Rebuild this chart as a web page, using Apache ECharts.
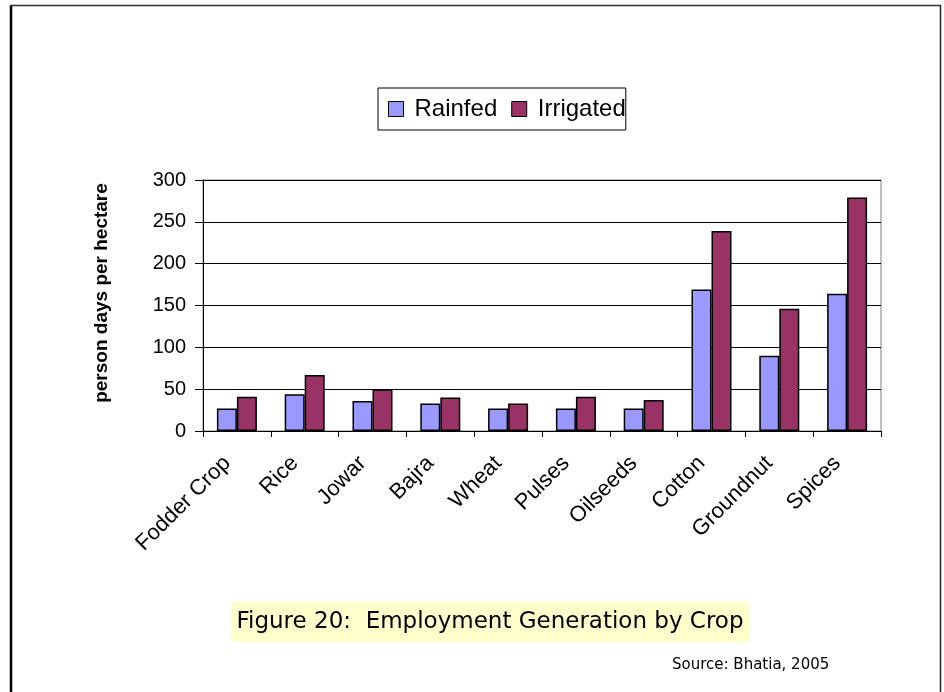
<!DOCTYPE html>
<html>
<head>
<meta charset="utf-8">
<script src="https://cdn.jsdelivr.net/npm/echarts@6/dist/echarts.min.js"></script>
<style>
html,body{margin:0;padding:0;background:#fff;}
#chart{width:944px;height:692px;}
</style>
</head>
<body>
<div id="chart"></div>
<script>
var categories = ['Fodder Crop','Rice','Jowar','Bajra','Wheat','Pulses','Oilseeds','Cotton','Groundnut','Spices'];
var rainfed   = [27, 44, 36, 33, 27, 27, 27, 169, 90, 164];
var irrigated = [41, 67, 50, 40, 33, 41, 37, 239, 146, 279];
var yTicks = {min: 0, max: 300, interval: 50};
var yAxisName = 'person days per hectare';
var titleText = 'Figure 20:  Employment Generation by Crop';
var sourceText = 'Source: Bhatia, 2005';

var chart = echarts.init(document.getElementById('chart'), null, {renderer: 'canvas'});
var sans = 'Arial, "Liberation Sans", sans-serif';
var comic = '"Comic Sans MS", "DejaVu Sans", sans-serif';

chart.setOption({
  animation: false,
  backgroundColor: '#fff',
  legend: {
    left: 378, top: 88,
    padding: [9, 0, 9, 10],
    borderColor: '#000', borderWidth: 1,
    itemWidth: 15, itemHeight: 15, itemGap: 14,
    icon: 'rect',
    itemStyle: {borderColor: '#000', borderWidth: 1},
    textStyle: {fontFamily: sans, fontSize: 24, color: '#000', padding: [0, 0, 0, 6]},
    data: ['Rainfed', 'Irrigated']
  },
  grid: {
    left: 203, right: 63, top: 180, bottom: 261,
    show: true, borderColor: '#808080', borderWidth: 1, backgroundColor: '#fff'
  },
  xAxis: {
    type: 'category',
    data: categories,
    axisLine: {lineStyle: {color: '#000', width: 1}},
    axisTick: {show: true, length: 6, lineStyle: {color: '#000'}},
    axisLabel: {rotate: 45, fontFamily: sans, fontSize: 22, color: '#000', margin: 19, padding: [0, 14, 0, 0], interval: 0}
  },
  yAxis: {
    type: 'value',
    min: yTicks.min, max: yTicks.max, interval: yTicks.interval,
    axisLine: {show: true, lineStyle: {color: '#000', width: 1}},
    axisTick: {show: true, length: 8, lineStyle: {color: '#000'}},
    axisLabel: {fontFamily: sans, fontSize: 20, color: '#000', margin: 17},
    splitLine: {show: true, lineStyle: {color: '#000', width: 1}}
  },
  series: [
    {
      name: 'Rainfed', type: 'bar', data: rainfed,
      barWidth: 20, barGap: '0%',
      itemStyle: {color: '#9999FF', borderColor: '#000', borderWidth: 1.5}
    },
    {
      name: 'Irrigated', type: 'bar', data: irrigated,
      barWidth: 20,
      itemStyle: {color: '#993366', borderColor: '#000', borderWidth: 1.5}
    }
  ],
  graphic: [
    {type: 'line', shape: {x1: 11, y1: 5, x2: 11, y2: 692}, style: {stroke: '#000', lineWidth: 2.5}},
    {type: 'line', shape: {x1: 10, y1: 5.5, x2: 941, y2: 5.5}, style: {stroke: '#333', lineWidth: 1.5}},
    {type: 'line', shape: {x1: 940.5, y1: 5, x2: 940.5, y2: 692}, style: {stroke: '#222', lineWidth: 1.5}},
    {type: 'text', x: 102, y: 293, rotation: Math.PI / 2,
      style: {text: yAxisName, fontFamily: sans, fontSize: 19, fontWeight: 'bold', fill: '#000', align: 'center', verticalAlign: 'middle'}},
    {type: 'rect', shape: {x: 231, y: 602, width: 519, height: 40}, style: {fill: '#FFFFCC'}},
    {type: 'text', x: 490, y: 622,
      style: {text: titleText, fontFamily: comic, fontSize: 23, fill: '#000', align: 'center', verticalAlign: 'middle'}},
    {type: 'text', x: 672, y: 665,
      style: {text: sourceText, fontFamily: comic, fontSize: 15, fill: '#000', align: 'left', verticalAlign: 'middle'}}
  ]
});
</script>
</body>
</html>
